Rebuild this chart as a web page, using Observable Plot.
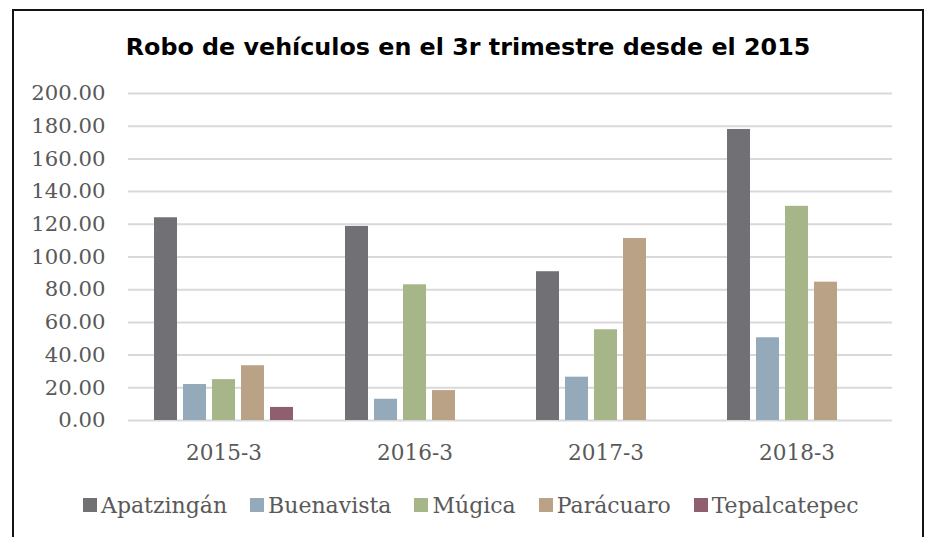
<!DOCTYPE html>
<html><head><meta charset="utf-8">
<script src="https://cdn.jsdelivr.net/npm/d3@7"></script>
<script src="https://cdn.jsdelivr.net/npm/@observablehq/plot@0.6"></script>
<style>
html,body{margin:0;padding:0;background:#fff;width:925px;height:537px;overflow:hidden;}
#frame{position:absolute;left:12px;top:9px;width:908px;height:600px;border:2px solid #141414;}
#title{position:absolute;left:12px;width:912px;top:35px;text-align:center;font-family:"DejaVu Sans";font-weight:bold;font-size:23.8px;line-height:24px;color:#000;white-space:nowrap;}
#chart{position:absolute;left:0;top:0;}
#legend{position:absolute;left:83px;top:495px;height:20px;display:flex;align-items:center;font-family:"DejaVu Serif";font-size:22px;color:#595959;white-space:nowrap;}
.item{display:flex;align-items:center;margin-right:23px;}
.sw{width:14px;height:14px;margin-right:4px;}
</style></head><body>
<div id="frame"></div>
<div id="title">Robo de vehículos en el 3r trimestre desde el 2015</div>
<div id="chart"></div>
<div id="legend"></div>
<script>
const periods = ["2015-3", "2016-3", "2017-3", "2018-3"];
const municipios = ["Apatzingán", "Buenavista", "Múgica", "Parácuaro", "Tepalcatepec"];
const apatzingan = [124, 118.7, 91, 178];
const buenavista = [22, 13, 26.5, 50.6];
const mugica = [25, 83, 55.5, 131];
const paracuaro = [33.5, 18.3, 111.3, 84.6];
const tepalcatepec = [8, null, null, null];
const colors = ["#717075", "#94a9b9", "#a7b689", "#b9a286", "#8f5f70"];
const yTicks = [0, 20, 40, 60, 80, 100, 120, 140, 160, 180, 200];

const series = [apatzingan, buenavista, mugica, paracuaro, tepalcatepec];
const data = [];
periods.forEach((p, i) => {
  municipios.forEach((m, j) => {
    const v = series[j][i];
    if (v != null) data.push({period: p, municipio: m, value: v});
  });
});

const chart = Plot.plot({
  width: 925,
  height: 475,
  marginLeft: 126,
  marginRight: 32,
  marginTop: 93,
  marginBottom: 55,
  style: {fontFamily: "DejaVu Serif", fontSize: "20px", color: "#595959", background: "transparent"},
  fx: {domain: periods, padding: 0, label: null},
  x: {domain: municipios, paddingInner: 0.2, paddingOuter: 0.87, axis: null},
  y: {domain: [0, 200], label: null},
  color: {domain: municipios, range: colors},
  marks: [
    Plot.ruleY(yTicks, {stroke: "#d9d9d9", strokeWidth: 2}),
    Plot.barY(data, {fx: "period", x: "municipio", y: "value", fill: "municipio"}),
    Plot.axisY(yTicks, {tickFormat: d => d.toFixed(2), tickSize: 0, tickPadding: 23, fontSize: 21.2, label: null}),
    Plot.axisFx({anchor: "bottom", tickSize: 0, tickPadding: 24, fontSize: 21.6, label: null})
  ]
});
document.getElementById("chart").appendChild(chart);

const leg = document.getElementById("legend");
const cs = chart.scale("color");
cs.domain.forEach((m, i) => {
  const it = document.createElement("div");
  it.className = "item";
  const sw = document.createElement("div");
  sw.className = "sw";
  sw.style.background = cs.range[i];
  const tx = document.createElement("span");
  tx.textContent = m;
  it.appendChild(sw);
  it.appendChild(tx);
  leg.appendChild(it);
});
</script>
</body></html>
